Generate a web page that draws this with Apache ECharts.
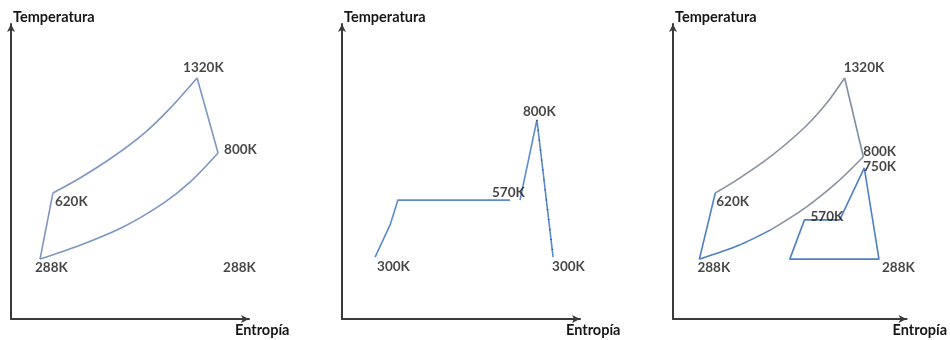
<!DOCTYPE html>
<html>
<head>
<meta charset="utf-8">
<script src="https://cdn.jsdelivr.net/npm/echarts@6/dist/echarts.min.js"></script>
<style>
  html, body { margin: 0; padding: 0; background: #fff; }
  #chart { width: 950px; height: 340px; }
</style>
</head>
<body>
<div id="chart"></div>
<script>
// Schematic T–s diagrams, coordinates in relative units (0–100 on each axis).

// Panel 1: gas turbine (Brayton) cycle
const gasCompression = [[12.2, 20.3], [17.6, 42.7]];
const gasHeating = [[17.6, 42.7], [29.0, 47.8], [42.9, 55.0], [56.3, 63.2], [66.8, 71.4], [78.2, 81.7]];
const gasExpansion = [[78.2, 81.7], [87.0, 56.3]];
const gasRejection = [[87.0, 56.3], [75.2, 46.4], [63.9, 39.2], [47.1, 31.2], [29.0, 25.0], [12.2, 20.3]];
const gasStates = [[12.2, 20.3, '288K'], [17.6, 42.7, '620K'], [78.2, 81.7, '1320K'], [87.0, 56.3, '800K'], [89.1, 20.3, '288K']];

// Panel 2: steam (Rankine) cycle
const steamHeating = [[13.9, 21.0], [20.2, 31.9], [23.5, 40.3], [70.6, 40.3]];
const steamSuperheat = [[74.8, 40.3], [81.9, 67.5], [88.7, 21.0]];
const steamStates = [[13.9, 21.0, '300K'], [74.8, 40.3, '570K'], [81.9, 67.5, '800K'], [88.7, 21.0, '300K']];

// Panel 3: combined cycle
const combCompression = [[11.3, 20.3], [18.1, 42.7]];
const combHeating = [[18.1, 42.7], [28.2, 47.6], [42.0, 55.2], [56.3, 64.9], [66.0, 73.4], [73.5, 81.7]];
const combExpansion = [[73.5, 81.7], [81.5, 55.0]];
const combRejectionHot = [[81.5, 55.0], [70.2, 46.3], [56.3, 37.5], [42.0, 30.3]];
const combRejectionCold = [[42.0, 30.3], [28.2, 25.0], [11.3, 20.3]];
const combBottoming = [[81.9, 51.2], [88.2, 20.3], [50.0, 20.3], [56.3, 33.6], [71.4, 33.6], [81.9, 51.2]];
const combStates = [[11.3, 20.3, '288K'], [18.1, 42.7, '620K'], [73.5, 81.7, '1320K'], [81.5, 55.0, '800K'],
                    [81.9, 51.2, '750K'], [56.3, 33.6, '570K'], [88.2, 20.3, '288K']];

const axisNameT = 'Temperatura';
const axisNameS = 'Entropía';

// label offsets (px) from each state point to the label's left-middle
const gasLabelOffsets = [[-5, 9], [2, 9], [-14, -10], [6, -3], [0, 9]];
const steamLabelOffsets = [[2, 10], [-28, -7], [-14, -8], [-1, 10]];
const combLabelOffsets = [[-2, 9], [1, 9], [-1, -10], [0, -5], [-1, -1], [6, -3], [3, 9]];

const FONT = 'Lato';
const textStyle = { fontFamily: FONT, fontWeight: 'bold', fontSize: 13.5, color: '#161616' };
const nameStyle = Object.assign({}, textStyle, { fontSize: 14.5 });
const gridLefts = [11, 342, 673];

const grids = gridLefts.map(l => ({ left: l, top: 24, width: 238, height: 295 }));

const axisLine = {
  show: true,
  symbol: ['none', 'arrow'],
  symbolSize: [6, 8],
  lineStyle: { color: '#3a3a3a', width: 2 }
};

const xAxes = grids.map((g, i) => ({
  type: 'value', gridIndex: i, min: 0, max: 100,
  axisLine, axisTick: { show: false }, axisLabel: { show: false }, splitLine: { show: false },
  name: axisNameS, nameLocation: 'end', nameGap: -14,
  nameTextStyle: Object.assign({}, nameStyle, { align: 'left', verticalAlign: 'top', padding: [4, 0, 0, 0] })
}));
const yAxes = grids.map((g, i) => ({
  type: 'value', gridIndex: i, min: 0, max: 100,
  axisLine, axisTick: { show: false }, axisLabel: { show: false }, splitLine: { show: false },
  name: axisNameT, nameLocation: 'end', nameGap: 7,
  nameTextStyle: Object.assign({}, nameStyle, { align: 'left', verticalAlign: 'middle', padding: [0, 0, 0, 2] })
}));

function path(data, idx, color, smooth) {
  return {
    type: 'line', xAxisIndex: idx, yAxisIndex: idx, data,
    smooth: smooth ? 0.3 : false, symbol: 'none', silent: true,
    lineStyle: { color, width: 1.6 }, z: 3
  };
}

function stateLabels(states, offsets, idx) {
  return {
    type: 'scatter', xAxisIndex: idx, yAxisIndex: idx, symbolSize: 0, silent: true, z: 5,
    data: states.map((s, k) => ({
      value: s,
      label: { offset: offsets[k] }
    })),
    label: Object.assign({
      show: true, position: [0, 0], align: 'left', verticalAlign: 'middle',
      formatter: p => p.value[2]
    }, textStyle)
  };
}

const gasColor = '#7d97c2';
const steamColor = '#5a8bd2';
const combGray = '#8a929f';
const combBlue = '#4f7fc6';

const series = [
  path(gasCompression, 0, gasColor, false),
  path(gasHeating, 0, gasColor, true),
  path(gasExpansion, 0, gasColor, false),
  path(gasRejection, 0, gasColor, true),
  stateLabels(gasStates, gasLabelOffsets, 0),

  path(steamHeating, 1, steamColor, false),
  path(steamSuperheat, 1, steamColor, false),
  {
    type: 'line', xAxisIndex: 1, yAxisIndex: 1, silent: true, symbol: 'none', z: 4,
    data: [steamSuperheat[1], steamSuperheat[2]],
    lineStyle: { color: '#222', width: 1.4, type: [1, 9], opacity: 0.75 }
  },
  stateLabels(steamStates, steamLabelOffsets, 1),

  path(combCompression, 2, combBlue, false),
  path(combHeating, 2, combGray, true),
  path(combExpansion, 2, '#7f8ea6', false),
  path(combRejectionHot, 2, combGray, true),
  path(combRejectionCold, 2, combBlue, true),
  path(combBottoming, 2, combBlue, false),
  stateLabels(combStates, combLabelOffsets, 2)
];

const chart = echarts.init(document.getElementById('chart'), null, { renderer: 'canvas' });
chart.setOption({
  animation: false,
  backgroundColor: '#ffffff',
  grid: grids,
  xAxis: xAxes,
  yAxis: yAxes,
  series
});
</script>
</body>
</html>
